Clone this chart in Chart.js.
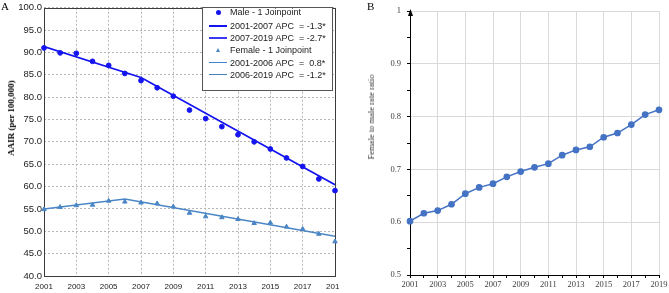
<!DOCTYPE html>
<html>
<head>
<meta charset="utf-8">
<script src="https://cdn.jsdelivr.net/npm/chart.js@4.4.1/dist/chart.umd.min.js"></script>
<style>
	body { margin: 0; background: #fff; }
	#wrap { position: relative; width: 669px; height: 293px; overflow: hidden; background: #fff; }
	canvas { position: absolute; top: 0; }
	#chart-a { left: 0; }
	#chart-b { left: 340px; }
	.panel { position: absolute; font-family: "Liberation Serif", serif; font-size: 11px; line-height: 12px; color: #000; }
	.ytitle { position: absolute; font-family: "Liberation Serif", serif; white-space: nowrap; transform: translate(-50%, -50%) rotate(-90deg); }
	#legend { position: absolute; left: 202px; top: 7px; width: 131px; height: 84px; border: 1px solid #555; background: #fff; box-sizing: border-box; font-family: "Liberation Sans", sans-serif; font-size: 9px; color: #222; }
	.row { position: absolute; left: 0; width: 129px; height: 12px; line-height: 12px; }
	.txt { position: absolute; left: 27px; top: 0; white-space: nowrap; }
	.dot { position: absolute; left: 13px; top: 4px; width: 5px; height: 5px; border-radius: 50%; }
	.tri { position: absolute; left: 13px; top: 4px; width: 0; height: 0; border-left: 2.5px solid transparent; border-right: 2.5px solid transparent; border-bottom: 4px solid; }
	.ln { position: absolute; left: 6px; top: 5px; width: 18px; }
</style>
</head>
<body>
<div id="wrap">
	<canvas id="chart-a" width="340" height="293"></canvas>
	<canvas id="chart-b" width="329" height="293"></canvas>
	<div class="panel" style="left:1px;top:0px;">A</div>
	<div class="panel" style="left:367px;top:0px;">B</div>
	<div class="ytitle" style="left:11px;top:118px;font-size:9px;font-weight:bold;">AAIR (per 100,000)</div>
	<div class="ytitle" style="left:371px;top:117px;font-size:8.5px;color:#333;">Female to male rate ratio</div>
	<div id="legend"></div>
</div>
<script>
// --- data ---
const years = [2001, 2002, 2003, 2004, 2005, 2006, 2007, 2008, 2009, 2010,
	2011, 2012, 2013, 2014, 2015, 2016, 2017, 2018, 2019];
const maleRate = [91.0, 89.9, 89.8, 88.0, 87.1, 85.3, 83.7, 82.1, 80.2, 77.1,
	75.2, 73.4, 71.6, 70.0, 68.4, 66.4, 64.5, 61.7, 59.1];
const femaleRate = [54.9, 55.4, 55.8, 55.9, 56.8, 56.6, 56.4, 56.2, 55.5, 54.1,
	53.3, 53.1, 52.7, 51.8, 51.9, 51.0, 50.5, 49.4, 47.7];
const maleJoinYears = [2001, 2007, 2019];
const maleJoinFit = [91.3, 84.4, 60.4];
const femaleJoinYears = [2001, 2006, 2019];
const femaleJoinFit = [55.0, 57.2, 48.9];
const ratio = [0.602, 0.617, 0.622, 0.634, 0.654, 0.666, 0.673, 0.686, 0.696, 0.704,
	0.711, 0.727, 0.737, 0.743, 0.761, 0.769, 0.785, 0.804, 0.813];

const legendItems = [
	{ label: "Male - 1 Joinpoint", kind: "dot", color: "#1414f0" },
	{ label: "2001-2007 APC  = -1.3*", kind: "line", color: "#1414f0", width: 2 },
	{ label: "2007-2019 APC  = -2.7*", kind: "line", color: "#3a3af5", width: 2 },
	{ label: "Female - 1 Joinpoint", kind: "tri", color: "#4a86c5" },
	{ label: "2001-2006 APC  =  0.8*", kind: "line", color: "#3f86cf", width: 1.5 },
	{ label: "2006-2019 APC  = -1.2*", kind: "line", color: "#4a7fb5", width: 1.5 },
];
const legendRowY = [11, 25, 37, 49, 62, 74];

const MALE = "#1414f0";
const FEMALE = "#4a86c5";
const RATIO = "#4472c4";

const pts = (xs, ys) => xs.map((x, i) => ({ x: x, y: ys[i] }));

// legend box (html)
let legend = document.getElementById("legend");
legendItems.forEach((it, i) => {
	let row = document.createElement("div");
	row.className = "row";
	row.style.top = (legendRowY[i] - 7 - 6) + "px";
	let sym = "";
	if (it.kind === "dot") sym = `<span class="dot" style="background:${it.color}"></span>`;
	else if (it.kind === "tri") sym = `<span class="tri" style="border-bottom-color:${it.color}"></span>`;
	else sym = `<span class="ln" style="border-top:${it.width}px solid ${it.color}"></span>`;
	row.innerHTML = sym + `<span class="txt">${it.label.replace(/ /g, "&nbsp;")}</span>`;
	legend.appendChild(row);
});

// frame round the plot area of A
const framePlugin = {
	id: "frame",
	beforeDatasetsDraw(chart) {
		const { ctx, chartArea: a } = chart;
		ctx.save();
		ctx.strokeStyle = "#3c3c3c";
		ctx.lineWidth = 1;
		ctx.strokeRect(Math.round(a.left) + 0.5, Math.round(a.top) + 0.5,
			Math.round(a.right - a.left), Math.round(a.bottom - a.top));
		ctx.restore();
	},
};

// arrow head on the y axis of B
const arrowPlugin = {
	id: "arrow",
	afterDraw(chart) {
		const { ctx, chartArea: a } = chart;
		let x = Math.round(a.left) + 0.5;
		ctx.save();
		ctx.fillStyle = "#000";
		ctx.beginPath();
		ctx.moveTo(x, a.top - 2);
		ctx.lineTo(x - 2.5, a.top + 5);
		ctx.lineTo(x + 2.5, a.top + 5);
		ctx.closePath();
		ctx.fill();
		ctx.restore();
	},
};

const noPad = (scale) => { scale.paddingLeft = 0; scale.paddingRight = 0; };

new Chart(document.getElementById("chart-a").getContext("2d"), {
	type: "line",
	data: {
		datasets: [
			{
				label: "Male",
				data: pts(years, maleRate),
				showLine: false,
				pointStyle: "circle",
				pointRadius: 2.4,
				pointBackgroundColor: MALE,
				pointBorderColor: MALE,
				clip: false,
			},
			{
				label: "Male fit",
				data: pts(maleJoinYears, maleJoinFit),
				borderColor: MALE,
				borderWidth: 1.8,
				pointRadius: 0,
				tension: 0,
			},
			{
				label: "Female",
				data: pts(years, femaleRate),
				showLine: false,
				pointStyle: "triangle",
				pointRadius: 2.6,
				pointBackgroundColor: FEMALE,
				pointBorderColor: FEMALE,
				clip: false,
			},
			{
				label: "Female fit",
				data: pts(femaleJoinYears, femaleJoinFit),
				borderColor: FEMALE,
				borderWidth: 1.5,
				pointRadius: 0,
				tension: 0,
			},
		],
	},
	options: {
		responsive: false,
		animation: false,
		layout: { padding: { top: 6, right: 5, left: 0, bottom: 0 } },
		plugins: { legend: { display: false }, tooltip: { enabled: false } },
		scales: {
			x: {
				type: "linear",
				min: 2001,
				max: 2019,
				afterFit: (s) => { s.height = 17; noPad(s); },
				ticks: {
					stepSize: 2,
					padding: 6,
					maxRotation: 0,
					color: "#222",
					font: { family: "Liberation Sans", size: 8 },
					callback: (v) => String(v),
				},
				grid: { color: "#b4b4b4", drawTicks: false },
				border: { display: false, dash: [2, 2] },
			},
			y: {
				min: 40,
				max: 100,
				afterFit: (s) => { s.width = 44; },
				ticks: {
					stepSize: 5,
					padding: 2,
					color: "#222",
					font: { family: "Liberation Sans", size: 9.5 },
					callback: (v) => v.toFixed(1),
				},
				grid: { color: "#b4b4b4", drawTicks: false },
				border: { display: false, dash: [2, 2] },
			},
		},
	},
	plugins: [framePlugin],
});

new Chart(document.getElementById("chart-b").getContext("2d"), {
	type: "line",
	data: {
		datasets: [
			{
				label: "Female to male rate ratio",
				data: pts(years, ratio),
				borderColor: RATIO,
				borderWidth: 1.5,
				pointRadius: 2.6,
				pointBackgroundColor: RATIO,
				pointBorderColor: RATIO,
				tension: 0,
				clip: false,
			},
		],
	},
	options: {
		responsive: false,
		animation: false,
		layout: { padding: { top: 11, right: 10, left: 0, bottom: 0 } },
		plugins: { legend: { display: false }, tooltip: { enabled: false } },
		scales: {
			x: {
				type: "linear",
				min: 2001,
				max: 2019,
				afterFit: (s) => { s.height = 18; noPad(s); },
				ticks: {
					stepSize: 1,
					autoSkip: false,
					padding: 2,
					maxRotation: 0,
					color: "#404040",
					font: { family: "Liberation Serif", size: 8.5 },
					callback: (v) => ((v - 2001) % 2 === 0 ? String(v) : ""),
				},
				grid: {
					color: (c) => (c.tick && (c.tick.value - 2001) % 2 === 0 ? "#d9d9d9" : "rgba(0,0,0,0)"),
					tickColor: "#000",
					tickLength: 3,
				},
				border: { color: "#000", width: 1 },
			},
			y: {
				min: 0.5,
				max: 1,
				afterFit: (s) => { s.width = 70; },
				ticks: {
					stepSize: 0.05,
					autoSkip: false,
					padding: 6,
					color: "#404040",
					font: { family: "Liberation Serif", size: 8.5 },
					callback: (v) => {
						let k = Math.round(v * 100);
						if (k % 10 !== 0) return "";
						return k === 100 ? "1" : (k / 100).toFixed(1);
					},
				},
				grid: {
					color: (c) => (c.tick && Math.round(c.tick.value * 100) % 10 === 0 ? "#d9d9d9" : "rgba(0,0,0,0)"),
					tickColor: "#000",
					tickLength: 3,
				},
				border: { color: "#000", width: 1 },
			},
		},
	},
	plugins: [arrowPlugin],
});
</script>
</body>
</html>
